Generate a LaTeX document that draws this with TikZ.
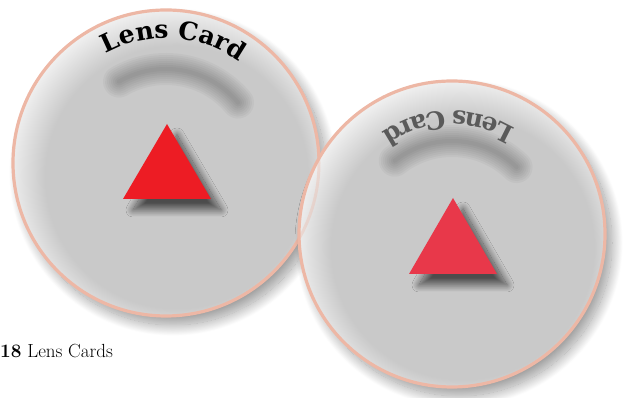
\documentclass[tikz,border=0pt]{standalone}
\usepackage{fontspec}
\newfontfamily\cardfont{DejaVu Serif}
\usetikzlibrary{decorations.text,shadows.blur,calc}
\definecolor{lensgray}{HTML}{C9C9C9}
\definecolor{lenslight}{HTML}{EFEFEF}
\definecolor{rim}{HTML}{EDB7A5}
\definecolor{tri1}{HTML}{ED1C24}
\definecolor{tri2}{HTML}{E8384A}
\definecolor{mirror}{HTML}{5A5A5A}
\pgfdeclareradialshading{lensfill}{\pgfpoint{3bp}{-4bp}}{color(0bp)=(lensgray); color(21.5bp)=(lensgray); color(27bp)=(lenslight); color(50bp)=(lenslight)}
\begin{document}
\begin{tikzpicture}[x=1pt,y=1pt,
  card/.style={shading=lensfill},
  rimline/.style={draw=rim, line width=3.2pt},
  cardshadow/.style={blur shadow={shadow xshift=7pt, shadow yshift=-9pt, shadow blur radius=11pt, shadow blur steps=30, shadow opacity=40}},
  trishadow/.style={blur shadow={shadow xshift=10pt, shadow yshift=-11pt, shadow blur radius=7pt, shadow blur steps=25, shadow opacity=62}},
  tshadow/.style={draw=black, line cap=round, opacity=0.03},
  cardtext/.style={decorate, decoration={text along path, text align=center, text color=#1,
    text={|\cardfont\bfseries\fontsize{25}{30}\selectfont|Lens Card}}},
]
\useasboundingbox (0,0) rectangle (626,398);
\coordinate (c1) at (166,235);
\coordinate (c2) at (452,164);
% card 1
\path[cardshadow] (c1) circle[radius=153];
\shade[card] (c1) circle[radius=153];
\foreach \w in {32,28,24,20,16,12,8,4}{
  \draw[tshadow, line width=\w pt] ($(c1)+(120:94)$) arc[start angle=120, end angle=40, radius=94];
}
\path[cardtext=black] ($(c1)+(146.5:125)$) arc[start angle=146.5, end angle=26.5, radius=125];
\fill[tri1, trishadow] (123,199) -- (167,274) -- (211,199) -- cycle;
\draw[rimline] (c1) circle[radius=153];
% card 2
\path[cardshadow] (c2) circle[radius=153];
\shade[card] (c2) circle[radius=153];
\begin{scope}
  \clip (c2) circle[radius=153];
  \draw[draw=rim, line width=3pt, opacity=0.35] (c1) circle[radius=153];
\end{scope}
\foreach \w in {32,28,24,20,16,12,8,4}{
  \draw[tshadow, line width=\w pt] ($(c2)+(128:93)$) arc[start angle=128, end angle=46, radius=93];
}
\begin{scope}[shift={(c2)}, xscale=-1]
  \path[cardtext=mirror] (148:123) arc[start angle=148, end angle=28, radius=123];
\end{scope}
\fill[tri2, trishadow] (409,124) -- (453,200) -- (497,124) -- cycle;
\draw[rimline] (c2) circle[radius=153];
% caption
\node[anchor=base west, inner sep=0, font=\fontsize{19}{22}\selectfont] (cap) at (0,40) {\textbf{18} Lens Cards};
\end{tikzpicture}
\end{document}
